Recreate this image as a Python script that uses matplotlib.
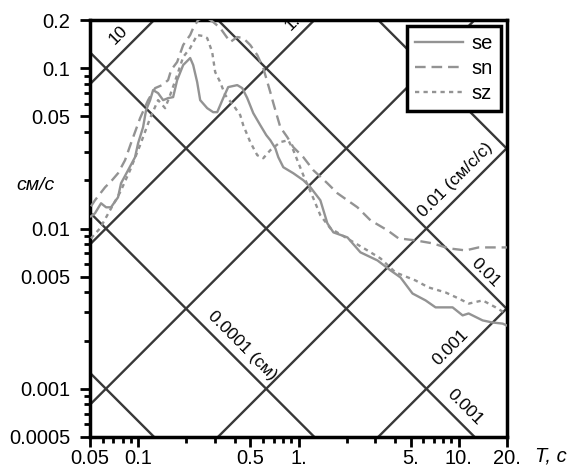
import numpy as np
import matplotlib
matplotlib.use("Agg")
import matplotlib.pyplot as plt
from matplotlib.ticker import FixedLocator, LogLocator, NullFormatter

plt.rcParams['font.family'] = ['Liberation Sans', 'DejaVu Sans']

# spectra: period T (s), velocity V (cm/s)
se_T = [0.0507, 0.0537, 0.0586, 0.0630, 0.0676, 0.0748, 0.0781, 0.0864, 0.0955, 0.0998,
        0.1072, 0.1119, 0.1186, 0.1238, 0.1330, 0.1430, 0.1536, 0.1651, 0.1749, 0.1907,
        0.2109, 0.2202, 0.2332, 0.2435, 0.2693, 0.2935, 0.3110, 0.3390, 0.3642, 0.4147,
        0.4457, 0.4789, 0.5221, 0.5774, 0.6295, 0.6668, 0.7165, 0.7482, 0.8038, 0.9284,
        1.072, 1.186, 1.369, 1.514, 1.651, 2.020, 2.435, 3.110, 3.750, 4.330,
        5.146, 6.205, 7.165, 9.152, 10.57, 11.52, 14.09, 16.27, 18.79, 20.0]
se_V = [0.01191, 0.01244, 0.01437, 0.01356, 0.01356, 0.01566, 0.01916, 0.02310, 0.02785, 0.03405,
        0.04287, 0.05477, 0.06324, 0.07302, 0.06995, 0.06324, 0.06510, 0.06604, 0.08433, 0.1047,
        0.1158, 0.1047, 0.0819, 0.06324, 0.05636, 0.0532, 0.0532, 0.06510, 0.07627, 0.07848,
        0.07516, 0.06510, 0.05245, 0.04414, 0.03823, 0.03557, 0.0317, 0.02785, 0.02412, 0.02212,
        0.0200, 0.01809, 0.0150, 0.01077, 0.00946, 0.0088, 0.0071, 0.00632, 0.00548, 0.00495,
        0.00393, 0.00356, 0.00322, 0.00322, 0.00287, 0.00295, 0.00267, 0.00259, 0.00255, 0.00248]

sn_T = [0.0507, 0.0537, 0.0621, 0.0686, 0.0748, 0.0827, 0.0915, 0.1027, 0.1152, 0.1274,
        0.1409, 0.1536, 0.1604, 0.1749, 0.1907, 0.2109, 0.2202, 0.2366, 0.2617, 0.2935,
        0.3247, 0.3750, 0.4147, 0.4520, 0.5000, 0.5530, 0.6028, 0.6668, 0.6965, 0.7700,
        0.8517, 0.9284, 1.072, 1.238, 1.514, 1.749, 2.020, 2.332, 2.812, 3.592,
        4.207, 5.373, 6.863, 8.640, 11.03, 13.30, 17.0, 20.0]
sn_V = [0.01375, 0.0150, 0.01809, 0.0200, 0.02212, 0.02667, 0.03557, 0.04882, 0.06324, 0.07516,
        0.07848, 0.08433, 0.09750, 0.1094, 0.1396, 0.1612, 0.1782, 0.2000, 0.2100, 0.1943,
        0.1782, 0.1457, 0.1566, 0.1543, 0.1396, 0.1209, 0.1002, 0.07096, 0.06057, 0.04287,
        0.03713, 0.03216, 0.02785, 0.0231, 0.01916, 0.0166, 0.0150, 0.01356, 0.01125, 0.00974,
        0.00868, 0.00843, 0.00808, 0.00752, 0.0073, 0.00762, 0.00762, 0.00762]

sz_T = [0.0507, 0.0577, 0.0667, 0.0771, 0.0889, 0.1027, 0.1186, 0.1330, 0.1471, 0.1581,
        0.1749, 0.1907, 0.2109, 0.2332, 0.2542, 0.2693, 0.2893, 0.3021, 0.3247, 0.3489,
        0.3917, 0.4330, 0.4520, 0.5000, 0.5530, 0.6028, 0.6668, 0.7700, 0.8641, 0.9284,
        0.9833, 1.072, 1.238, 1.369, 1.581, 2.109, 2.693, 3.247, 4.030, 5.373,
        6.479, 8.275, 9.977, 11.55, 14.1, 17.0, 19.63]
sz_V = [0.00868, 0.01002, 0.0130, 0.01683, 0.0231, 0.03311, 0.04882, 0.06324, 0.05636, 0.06797,
        0.0906, 0.1175, 0.1337, 0.1612, 0.1589, 0.1543, 0.1262, 0.09462, 0.0819, 0.0680,
        0.05886, 0.05096, 0.04414, 0.0346, 0.02866, 0.02745, 0.0308, 0.0346, 0.03557, 0.0308,
        0.02667, 0.0215, 0.01543, 0.01209, 0.01002, 0.00843, 0.0073, 0.00651, 0.00532, 0.00474,
        0.00429, 0.00399, 0.00366, 0.0034, 0.00356, 0.00322, 0.00295]

# tripartite grid levels
accel_levels = [10, 1, 0.1, 0.01, 0.001]        # cm/s/s
disp_levels = [0.1, 0.01, 0.001, 0.0001, 0.00001]  # cm

xticks = [0.05, 0.1, 0.5, 1, 5, 10, 20]
xticklabels = ["0.05", "0.1", "0.5", "1.", "5.", "10.", "20."]
yticks = [0.0005, 0.001, 0.005, 0.01, 0.05, 0.1, 0.2]
yticklabels = ["0.0005", "0.001", "0.005", "0.01", "0.05", "0.1", "0.2"]

fig = plt.figure(figsize=(5.75, 4.72), dpi=100)
ax = fig.add_axes([90 / 575, 1 - 437 / 472, 417 / 575, 417 / 472])
ax.set_xscale('log')
ax.set_yscale('log')

Tg = np.logspace(-2, 2, 300)
gridc = '#383838'
for a in accel_levels:
    ax.plot(Tg, a * Tg / (2 * np.pi), color=gridc, lw=1.7, zorder=1)
for d in disp_levels:
    ax.plot(Tg, 2 * np.pi * d / Tg, color=gridc, lw=1.7, zorder=1)

curvec = '#939393'
ax.plot(se_T, se_V, color=curvec, lw=1.7, label='se', zorder=3)
ax.plot(sn_T, sn_V, color=curvec, lw=1.7, dashes=(4.5, 2.5), label='sn', zorder=3)
ax.plot(sz_T, sz_V, color=curvec, lw=1.7, dashes=(1.8, 1.8), label='sz', zorder=3)

ax.set_xlim(0.05, 20)
ax.set_ylim(0.0005, 0.2)

# labels on the grid lines
tfs = 12.5
ax.text(0.0748, 0.1615, "10", rotation=45, ha='center', va='center', fontsize=tfs)
ax.text(0.917, 0.192, "1.", rotation=45, ha='center', va='center', fontsize=tfs, clip_on=True)
ax.text(9.55, 0.020, "0.01 (см/с/с)", rotation=45, ha='center', va='center', fontsize=tfs)
ax.text(8.89, 0.00181, "0.001", rotation=45, ha='center', va='center', fontsize=tfs)
ax.text(0.4456, 0.00186, "0.0001 (см)", rotation=-45, ha='center', va='center', fontsize=tfs)
ax.text(14.7, 0.00532, "0.01", rotation=-45, ha='center', va='center', fontsize=tfs)
ax.text(11.0, 0.000762, "0.001", rotation=-45, ha='center', va='center', fontsize=tfs)

ax.xaxis.set_major_locator(FixedLocator(xticks))
ax.set_xticklabels(xticklabels)
ax.yaxis.set_major_locator(FixedLocator(yticks))
ax.set_yticklabels(yticklabels)
ax.xaxis.set_minor_locator(LogLocator(base=10, subs=np.arange(2, 10), numticks=20))
ax.yaxis.set_minor_locator(LogLocator(base=10, subs=np.arange(2, 10), numticks=20))
ax.xaxis.set_minor_formatter(NullFormatter())
ax.yaxis.set_minor_formatter(NullFormatter())
ax.tick_params(which='major', direction='out', length=7, width=2, labelsize=14.5)
ax.tick_params(which='minor', direction='out', length=4, width=2)
ax.tick_params(axis='x', which='major', pad=2)
ax.tick_params(axis='y', which='major', pad=7)
for s in ax.spines.values():
    s.set_linewidth(2.5)

leg = ax.legend(loc='upper right', fancybox=False, edgecolor='black', framealpha=1,
                fontsize=14.5, handlelength=2.4, handletextpad=0.4, labelspacing=0.3,
                borderpad=0.4, borderaxespad=0.3)
leg.get_frame().set_linewidth(2.5)

fig.text(35 / 575, 1 - 186 / 472, "см/с", ha='center', va='center', fontsize=14, style='italic')
fig.text(551 / 575, 1 - 456 / 472, "T, с", ha='center', va='center', fontsize=14.5, style='italic')

fig.savefig("out.png", dpi=100)
